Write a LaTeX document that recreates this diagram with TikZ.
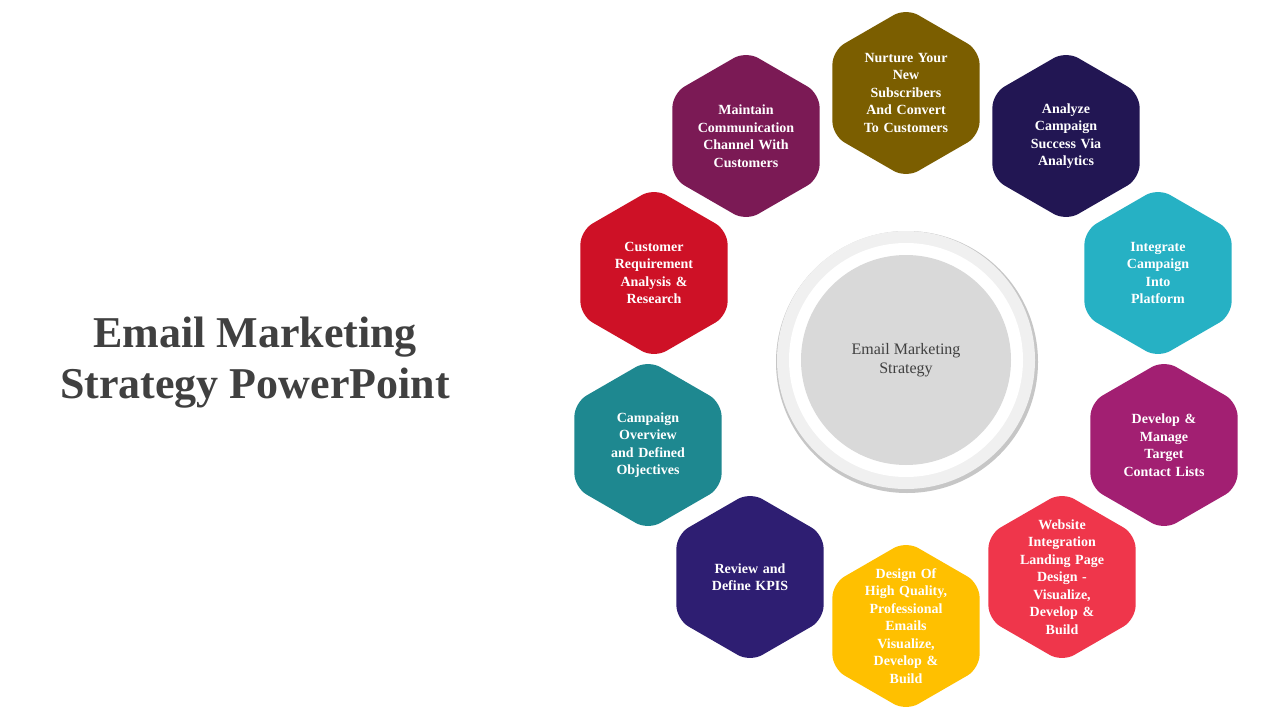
\documentclass[tikz,border=0pt]{standalone}
\usepackage{fontspec}
\setmainfont{Liberation Serif}
\usetikzlibrary{shapes.geometric}
\definecolor{cNurture}{HTML}{7B5E00}
\definecolor{cAnalyze}{HTML}{221653}
\definecolor{cIntegrate}{HTML}{26B1C4}
\definecolor{cDevelop}{HTML}{A21F72}
\definecolor{cWebsite}{HTML}{EF364B}
\definecolor{cDesign}{HTML}{FFC000}
\definecolor{cReview}{HTML}{2E1E72}
\definecolor{cCampaign}{HTML}{1E8890}
\definecolor{cCustomer}{HTML}{CE1126}
\definecolor{cMaintain}{HTML}{7B1A55}
\definecolor{txtgray}{HTML}{404040}
\tikzset{
  hexbox/.style={regular polygon,regular polygon sides=6,shape border rotate=90,
    minimum size=170pt,inner sep=0pt,rounded corners=14pt,draw=none,fill=#1},
  hextext/.style={text=white,align=center,text width=110pt,
    font=\bfseries\fontsize{14}{17.5}\selectfont}
}
\begin{document}
\begin{tikzpicture}[x=1pt,y=-1pt]
  \useasboundingbox (0,0) rectangle (1280,720);
  \fill[white] (0,0) rectangle (1280,720);

  % title
  \node[text=txtgray,align=center,font=\bfseries\fontsize{44}{51}\selectfont] (title) at (255,363)
    {Email Marketing\\Strategy PowerPoint};

  % centre circle
  \fill[gray!45] (907,362) circle (131);
  \fill[gray!12] (906,360) circle (129);
  \fill[white] (906,360) circle (117);
  \node[circle,fill=gray!30,minimum size=210pt,inner sep=0pt,text=txtgray,align=center,
    font=\fontsize{16}{19}\selectfont] (hub) at (906,360) {Email Marketing\\Strategy};

  % hexagons
  \foreach \name/\x/\y/\col/\txt in {
      nurture/906/93/cNurture/{Nurture Your\\New\\Subscribers\\And Convert\\To Customers},
      analyze/1066/136/cAnalyze/{Analyze\\Campaign\\Success Via\\Analytics},
      integrate/1158/273/cIntegrate/{Integrate\\Campaign\\Into\\Platform},
      develop/1164/445/cDevelop/{Develop \&\\Manage\\Target\\Contact Lists},
      website/1062/577/cWebsite/{Website\\Integration\\Landing Page\\Design -\\Visualize,\\Develop \&\\Build},
      design/906/626/cDesign/{Design Of\\High Quality,\\Professional\\Emails\\Visualize,\\Develop \&\\Build},
      review/750/577/cReview/{Review and\\Define KPIS},
      campaign/648/445/cCampaign/{Campaign\\Overview\\and Defined\\Objectives},
      customer/654/273/cCustomer/{Customer\\Requirement\\Analysis \&\\Research},
      maintain/746/136/cMaintain/{Maintain\\Communication\\Channel With\\Customers}} {
    \node[hexbox=\col] (\name) at (\x,\y) {};
    \node[hextext] (\name-t) at (\name) {\txt};
  }
\end{tikzpicture}
\end{document}
